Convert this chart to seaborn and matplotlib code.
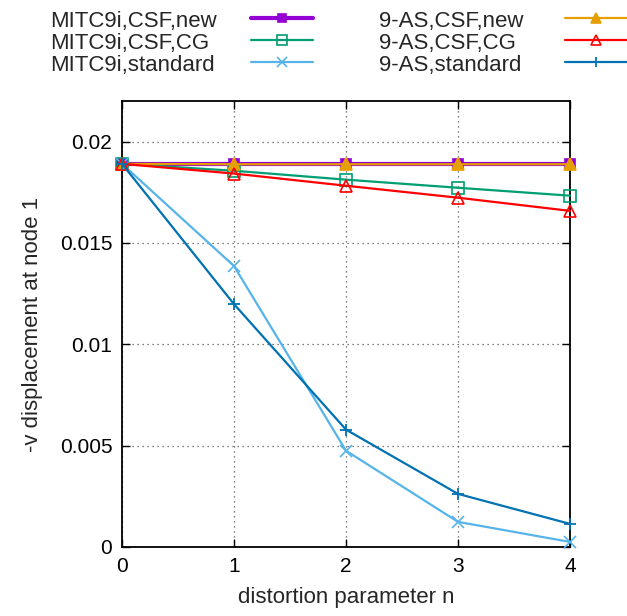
import numpy as np
import pandas as pd
import matplotlib
matplotlib.use("Agg")
import matplotlib.pyplot as plt
from matplotlib.lines import Line2D
from matplotlib.ticker import FuncFormatter
import seaborn as sns

# distortion parameter n
n = [0, 1, 2, 3, 4]

# -v displacement at node 1
mitc_new = [0.01890, 0.01890, 0.01890, 0.01890, 0.01890]
mitc_cg = [0.01890, 0.01856, 0.01812, 0.01772, 0.01733]
mitc_std = [0.01890, 0.01386, 0.00475, 0.00124, 0.00025]
as_new = [0.01890, 0.01888, 0.01888, 0.01888, 0.01888]
as_cg = [0.01890, 0.01842, 0.01782, 0.01723, 0.01658]
as_std = [0.01890, 0.01198, 0.00579, 0.00262, 0.00114]

labels = ["MITC9i,CSF,new", "MITC9i,CSF,CG", "MITC9i,standard",
          "9-AS,CSF,new", "9-AS,CSF,CG", "9-AS,standard"]

sns.set_style("ticks")
plt.rcParams['font.family'] = ['Liberation Sans', 'DejaVu Sans']

W, H = 627, 616
fig = plt.figure(figsize=(W / 100, H / 100), dpi=100)
ax = fig.add_axes([122 / W, 1 - 547 / H, 448 / W, 446 / H])

styles = [
    dict(color='#9400d3', marker='s', lw=3.0, ms=7, mfc='#9400d3', mew=1.2),
    dict(color='#009e73', marker='s', lw=1.6, ms=8, mfc='none', mew=1.2),
    dict(color='#56b4e9', marker='x', lw=1.6, ms=8, mfc='#56b4e9', mew=1.2),
    dict(color='#e69f00', marker='^', lw=1.6, ms=8, mfc='#e69f00', mew=1.2),
    dict(color='#ff0000', marker='^', lw=1.6, ms=8, mfc='none', mew=1.2),
    dict(color='#0072b2', marker='+', lw=1.6, ms=9, mfc='#0072b2', mew=1.3),
]
series = [mitc_new, mitc_cg, mitc_std, as_new, as_cg, as_std]

for vals, lab, st in zip(series, labels, styles):
    df = pd.DataFrame({'n': n, 'v': vals})
    sns.lineplot(data=df, x='n', y='v', ax=ax, color=st['color'],
                 marker=st['marker'], linewidth=st['lw'], markersize=st['ms'],
                 markerfacecolor=st['mfc'], markeredgecolor=st['color'],
                 markeredgewidth=st['mew'], clip_on=False, zorder=3)

ax.set_xlim(0, 4)
ax.set_ylim(0, 0.022)
ax.set_xticks([0, 1, 2, 3, 4])
ax.set_yticks([0, 0.005, 0.01, 0.015, 0.02])
ax.yaxis.set_major_formatter(FuncFormatter(lambda v, p: '%g' % round(v, 4)))
ax.grid(True, color='#555555', linestyle=(0, (1, 3)), linewidth=0.9)
ax.tick_params(direction='in', length=6, width=1.0, top=True, right=True,
               labelsize=15, pad=7, colors='black')
for sp in ax.spines.values():
    sp.set_linewidth(1.3)
    sp.set_color('black')
    sp.set_visible(True)

ax.set_xlabel('distortion parameter n', fontsize=16, labelpad=8)
ax.set_ylabel('-v displacement at node 1', fontsize=16, labelpad=12)

# gnuplot-style key: text left aligned, sample line to its right
cols = [(50, 251, 313), (379, 565, 627)]
rows = [18, 40, 62]
for i, (lab, st) in enumerate(zip(labels, styles)):
    tx, x0, x1 = cols[i // 3]
    y = 1 - rows[i % 3] / H
    fig.text(tx / W, y - 3 / H, lab, fontsize=16, va='center', ha='left')
    fig.add_artist(Line2D([x0 / W, x1 / W], [y, y], color=st['color'],
                          lw=st['lw'], transform=fig.transFigure))
    fig.add_artist(Line2D([(x0 + x1) / 2 / W], [y], color=st['color'],
                          marker=st['marker'], ms=st['ms'] - 1.5,
                          mfc=st['mfc'], mec=st['color'], mew=st['mew'],
                          transform=fig.transFigure))

fig.savefig('out.png', dpi=100)
